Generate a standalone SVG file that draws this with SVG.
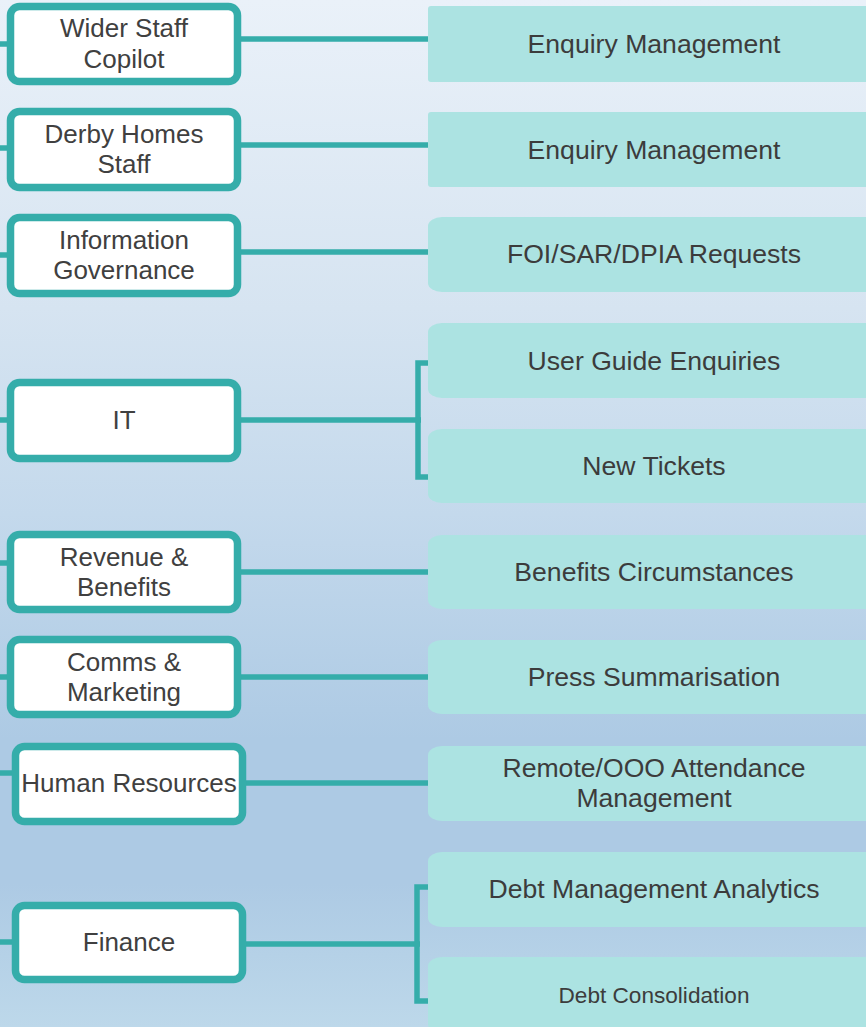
<svg xmlns="http://www.w3.org/2000/svg" width="866" height="1027" viewBox="0 0 866 1027">
<defs>
<linearGradient id="bg" x1="0" y1="0" x2="0" y2="1">
<stop offset="0" stop-color="#EAF1F9"/>
<stop offset="0.3" stop-color="#D6E4F1"/>
<stop offset="0.5" stop-color="#C4D9EC"/>
<stop offset="0.72" stop-color="#ADCAE4"/>
<stop offset="0.86" stop-color="#ADCAE4"/>
<stop offset="1" stop-color="#BDD8EA"/>
</linearGradient>
<style>
.n{fill:#FFFFFF;stroke:#35ADAA;stroke-width:7.5}
.b{fill:#ACE3E2}
.c{fill:none;stroke:#35ADAA;stroke-width:5.5}
.lt{font-family:"Liberation Sans",Arial,sans-serif;font-size:26px;fill:#404040;text-anchor:middle}
.rt{font-family:"Liberation Sans",Arial,sans-serif;font-size:26.6px;fill:#3C3C3C;text-anchor:middle}
</style>
</defs>
<rect x="0" y="0" width="866" height="1027" fill="url(#bg)"/>

<g id="connectors">
<path class="c" d="M0 44H11M0 148H11M0 255H11M0 420H11M0 563H11M0 677H11M0 773H16M0 942H16"/>
<path class="c" d="M241 39H429M241 145H429M241 252H429M241 572H429M241 677H429M246 783H429"/>
<path class="c" d="M241 420H421M429 363H418V477H429"/>
<path class="c" d="M246 944H420M429 887H417V1001H429"/>
</g>

<g id="wider-staff-copilot"><rect class="n" x="10.5" y="6.5" width="227" height="75" rx="9"/><text class="lt" x="124" y="37">Wider Staff</text><text class="lt" x="124" y="68">Copilot</text></g>
<g id="derby-homes-staff"><rect class="n" x="10.5" y="111.5" width="227" height="76" rx="9"/><text class="lt" x="124" y="143">Derby Homes</text><text class="lt" x="124" y="173">Staff</text></g>
<g id="information-governance"><rect class="n" x="10.5" y="217.5" width="227" height="76" rx="9"/><text class="lt" x="124" y="249">Information</text><text class="lt" x="124" y="279">Governance</text></g>
<g id="it"><rect class="n" x="10.5" y="382.5" width="227" height="76" rx="9"/><text class="lt" x="124" y="429">IT</text></g>
<g id="revenue-benefits"><rect class="n" x="10.5" y="534.5" width="227" height="75" rx="9"/><text class="lt" x="124" y="566">Revenue &amp;</text><text class="lt" x="124" y="596">Benefits</text></g>
<g id="comms-marketing"><rect class="n" x="10.5" y="639.5" width="227" height="75" rx="9"/><text class="lt" x="124" y="671">Comms &amp;</text><text class="lt" x="124" y="701">Marketing</text></g>
<g id="human-resources"><rect class="n" x="15.5" y="746.5" width="227" height="75" rx="9"/><text class="lt" x="129" y="792">Human Resources</text></g>
<g id="finance"><rect class="n" x="15.5" y="905.5" width="227" height="74" rx="9"/><text class="lt" x="129" y="951">Finance</text></g>

<g id="enquiry-management-1"><rect class="b" x="428" y="6" width="452" height="76" rx="3"/><text class="rt" x="654" y="53">Enquiry Management</text></g>
<g id="enquiry-management-2"><rect class="b" x="428" y="112" width="452" height="75" rx="3"/><text class="rt" x="654" y="159">Enquiry Management</text></g>
<g id="foi-sar-dpia"><rect class="b" x="428" y="217" width="452" height="75" rx="14" ry="9"/><text class="rt" x="654" y="263">FOI/SAR/DPIA Requests</text></g>
<g id="user-guide-enquiries"><rect class="b" x="428" y="323" width="452" height="75" rx="14" ry="9"/><text class="rt" x="654" y="370">User Guide Enquiries</text></g>
<g id="new-tickets"><rect class="b" x="428" y="429" width="452" height="74" rx="14" ry="9"/><text class="rt" x="654" y="475">New Tickets</text></g>
<g id="benefits-circumstances"><rect class="b" x="428" y="535" width="452" height="74" rx="14" ry="9"/><text class="rt" x="654" y="581">Benefits Circumstances</text></g>
<g id="press-summarisation"><rect class="b" x="428" y="640" width="452" height="74" rx="14" ry="9"/><text class="rt" x="654" y="686">Press Summarisation</text></g>
<g id="remote-attendance"><rect class="b" x="428" y="746" width="452" height="75" rx="14" ry="9"/><text class="rt" x="654" y="777">Remote/OOO Attendance</text><text class="rt" x="654" y="807">Management</text></g>
<g id="debt-management-analytics"><rect class="b" x="428" y="852" width="452" height="75" rx="14" ry="9"/><text class="rt" x="654" y="898">Debt Management Analytics</text></g>
<g id="debt-consolidation"><rect class="b" x="428" y="957" width="452" height="76" rx="14" ry="9"/><text class="rt" x="654" y="1003" style="font-size:22.6px">Debt Consolidation</text></g>
</svg>
